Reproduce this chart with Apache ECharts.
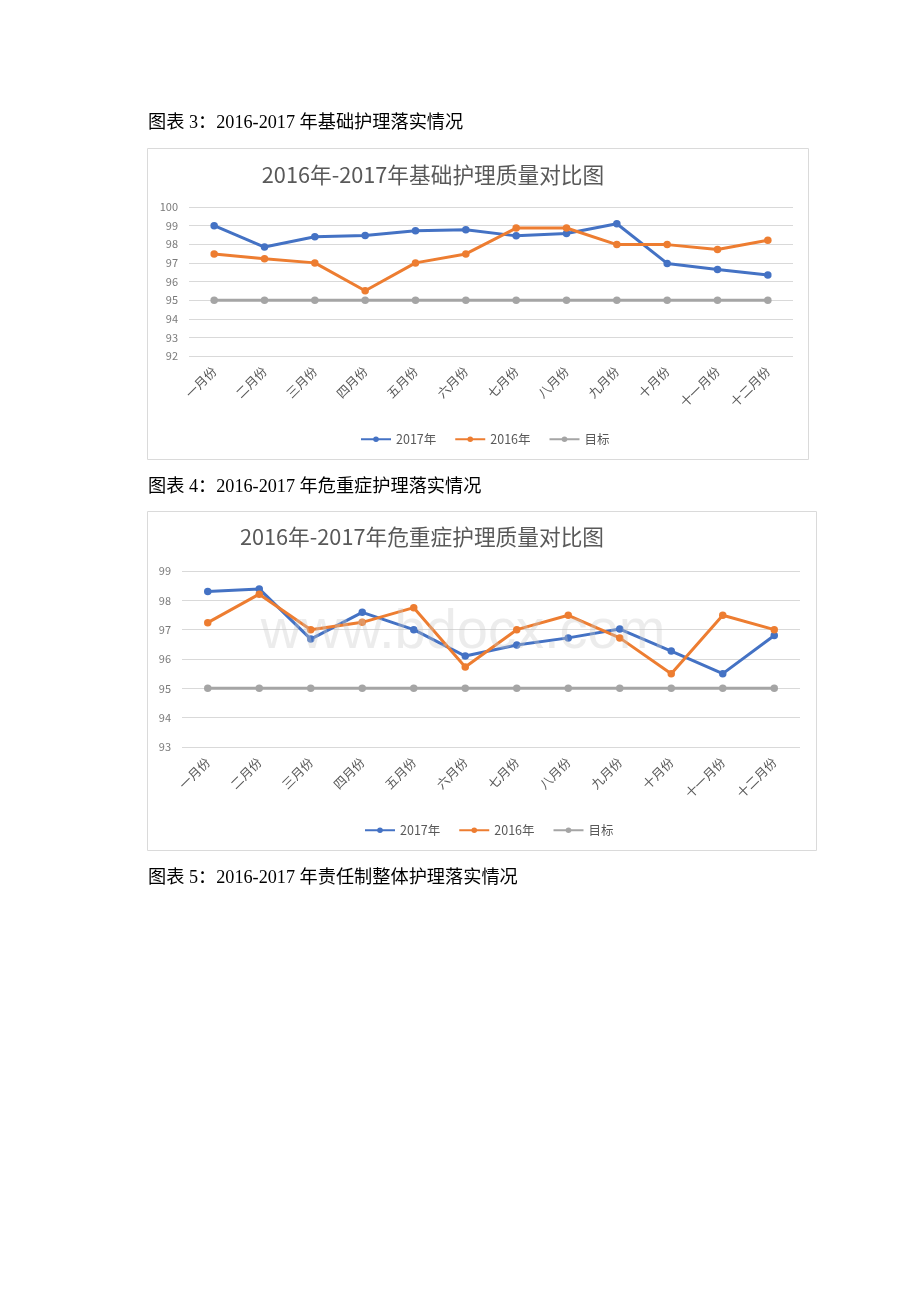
<!DOCTYPE html>
<html><head><meta charset="utf-8">
<script src="https://cdn.jsdelivr.net/npm/echarts@6/dist/echarts.min.js"></script>
<style>html,body{margin:0;padding:0;background:#fff}#c{width:920px;height:1302px}</style>
</head><body><div id="c"></div>
<script>
const months = ['一月份','二月份','三月份','四月份','五月份','六月份','七月份','八月份','九月份','十月份','十一月份','十二月份'];
const seriesNames = ['2017年','2016年','目标'];
// Chart 1: 基础护理
const basic2017 = [99.0, 97.85, 98.4, 98.47, 98.72, 98.78, 98.45, 98.58, 99.1, 96.97, 96.65, 96.35];
const basic2016 = [97.48, 97.22, 97.0, 95.5, 97.0, 97.48, 98.87, 98.87, 97.98, 97.98, 97.72, 98.22];
const basicTarget = [95,95,95,95,95,95,95,95,95,95,95,95];
// Chart 2: 危重症护理
const crit2017 = [98.3, 98.39, 96.68, 97.59, 97.0, 96.1, 96.48, 96.72, 97.02, 96.27, 95.5, 96.8];
const crit2016 = [97.24, 98.21, 97.0, 97.25, 97.75, 95.73, 97.0, 97.49, 96.72, 95.5, 97.49, 97.0];
const critTarget = [95,95,95,95,95,95,95,95,95,95,95,95];
const captions = ['图表 3：2016-2017 年基础护理落实情况','图表 4：2016-2017 年危重症护理落实情况','图表 5：2016-2017 年责任制整体护理落实情况'];
const titles = ['2016年-2017年基础护理质量对比图','2016年-2017年危重症护理质量对比图'];

const colors = ['#4472C4','#ED7D31','#A5A5A5'];
const FONT = '"Noto Sans CJK SC", sans-serif';
const txt = '#595959';
const chart = echarts.init(document.getElementById('c'), null, {renderer:'canvas'});

function mkSeries(name, data, idx, ci){
  return {name:name, type:'line', data:data, xAxisIndex:idx, yAxisIndex:idx,
    symbol:'circle', symbolSize:7.5, color:colors[ci],
    lineStyle:{width:3, color:colors[ci]}, itemStyle:{color:colors[ci]},
    emphasis:{disabled:true}, animation:false, z:3};
}
function xAx(idx){
  return {type:'category', gridIndex:idx, data:months, boundaryGap:true,
    axisLine:{show:false}, axisTick:{show:false},
    axisLabel:{rotate:45, color:txt, fontSize:12.5, fontFamily:FONT, margin:13, interval:0}};
}
function yAx(idx, min, max){
  return {type:'value', gridIndex:idx, min:min, max:max, interval:1,
    axisLine:{show:false}, axisTick:{show:false},
    splitLine:{lineStyle:{color:'#D9D9D9', width:1.2}},
    axisLabel:{color:'#7a7a7a', fontSize:11, fontFamily:FONT, margin:11}};
}
const capStyle = {fill:'#000', fontSize:18.2, fontFamily:'"Liberation Serif", "Noto Sans CJK SC", serif'};

chart.setOption({
  animation:false,
  grid:[
    {left:189, right:127, top:207, bottom:946, containLabel:false},
    {left:182, right:120, top:571, bottom:555, containLabel:false}
  ],
  xAxis:[xAx(0), xAx(1)],
  yAxis:[yAx(0,92,100), yAx(1,93,99)],
  legend:[
    {data:seriesNames, left:355, top:428, itemWidth:30, itemHeight:7, itemGap:18,
     textStyle:{color:txt, fontSize:12.5, fontFamily:FONT}, selectedMode:false},
    {data:seriesNames, left:359, top:819, itemWidth:30, itemHeight:7, itemGap:18,
     textStyle:{color:txt, fontSize:12.5, fontFamily:FONT}, selectedMode:false}
  ],
  graphic:[
    {type:'rect', shape:{x:147.5, y:148.5, width:661, height:311}, style:{fill:'#fff', stroke:'#DADADA', lineWidth:1}, z:-10, silent:true},
    {type:'rect', shape:{x:147.5, y:511.5, width:669, height:339}, style:{fill:'#fff', stroke:'#DADADA', lineWidth:1}, z:-10, silent:true},
    {type:'text', x:148, y:123, style:Object.assign({text:captions[0], textVerticalAlign:'middle'}, capStyle)},
    {type:'text', x:148, y:487, style:Object.assign({text:captions[1], textVerticalAlign:'middle'}, capStyle)},
    {type:'text', x:148, y:878, style:Object.assign({text:captions[2], textVerticalAlign:'middle'}, capStyle)},
    {type:'text', x:433, y:175, style:{text:titles[0], textAlign:'center', textVerticalAlign:'middle', fill:txt, fontSize:21.7, fontFamily:FONT}},
    {type:'text', x:422, y:537, style:{text:titles[1], textAlign:'center', textVerticalAlign:'middle', fill:txt, fontSize:21.7, fontFamily:FONT}},
    {type:'text', x:463, y:633, z:100, style:{text:'www.bdocx.com', textAlign:'center', textVerticalAlign:'middle', fill:'rgba(200,200,200,0.35)', fontSize:56, fontFamily:'"Liberation Sans", Arial, sans-serif'}, silent:true}
  ],
  series:[
    mkSeries(seriesNames[0], basic2017, 0, 0),
    mkSeries(seriesNames[1], basic2016, 0, 1),
    mkSeries(seriesNames[2], basicTarget, 0, 2),
    mkSeries(seriesNames[0], crit2017, 1, 0),
    mkSeries(seriesNames[1], crit2016, 1, 1),
    mkSeries(seriesNames[2], critTarget, 1, 2)
  ]
});
</script></body></html>
